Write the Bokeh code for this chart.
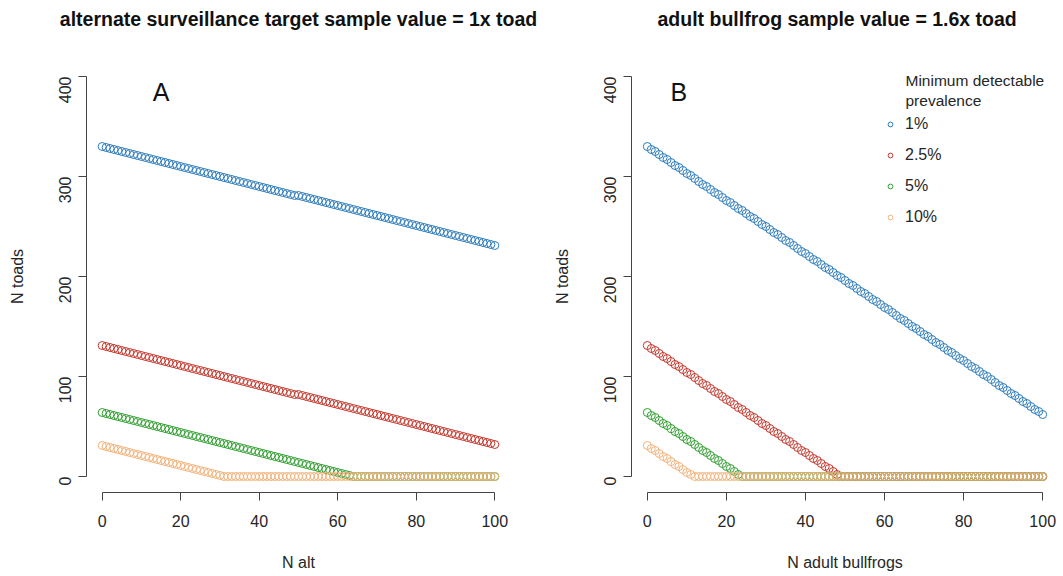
from bokeh.plotting import figure
from bokeh.layouts import row
from bokeh.models import FixedTicker, Label, Legend, LegendItem, Range1d, Title
from bokeh.embed import file_html
from bokeh.resources import INLINE
import math

# ---------------- data ----------------
n_other = list(range(0, 101))  # x values: 0..100 alternative samples

prevalence_labels = ["1%", "2.5%", "5%", "10%"]
series_colors = ["#2B7BBA", "#C2362B", "#2E9E2E", "#F2B279"]

# Panel A: alternate surveillance target (1x toad)
a_1pct = [330, 329, 328, 327, 326, 325, 324, 323, 322, 321,
          320, 319, 318, 317, 316, 315, 314, 313, 312, 311,
          310, 309, 308, 307, 306, 305, 304, 303, 302, 301,
          300, 299, 298, 297, 296, 295, 294, 293, 292, 291,
          290, 289, 288, 287, 286, 285, 284, 283, 282, 281,
          281, 280, 279, 278, 277, 276, 275, 274, 273, 272,
          271, 270, 269, 268, 267, 266, 265, 264, 263, 262,
          261, 260, 259, 258, 257, 256, 255, 254, 253, 252,
          251, 250, 249, 248, 247, 246, 245, 244, 243, 242,
          241, 240, 239, 238, 237, 236, 235, 234, 233, 232,
          231]
a_2p5pct = [131, 130, 129, 128, 127, 126, 125, 124, 123, 122,
            121, 120, 119, 118, 117, 116, 115, 114, 113, 112,
            111, 110, 109, 108, 107, 106, 105, 104, 103, 102,
            101, 100, 99, 98, 97, 96, 95, 94, 93, 92,
            91, 90, 89, 88, 87, 86, 85, 84, 83, 82,
            82, 81, 80, 79, 78, 77, 76, 75, 74, 73,
            72, 71, 70, 69, 68, 67, 66, 65, 64, 63,
            62, 61, 60, 59, 58, 57, 56, 55, 54, 53,
            52, 51, 50, 49, 48, 47, 46, 45, 44, 43,
            42, 41, 40, 39, 38, 37, 36, 35, 34, 33,
            32]
a_5pct = [64, 63, 62, 61, 60, 59, 58, 57, 56, 55,
          54, 53, 52, 51, 50, 49, 48, 47, 46, 45,
          44, 43, 42, 41, 40, 39, 38, 37, 36, 35,
          34, 33, 32, 31, 30, 29, 28, 27, 26, 25,
          24, 23, 22, 21, 20, 19, 18, 17, 16, 15,
          14, 13, 12, 11, 10, 9, 8, 7, 6, 5,
          4, 3, 2, 1, 0, 0, 0, 0, 0, 0,
          0, 0, 0, 0, 0, 0, 0, 0, 0, 0,
          0, 0, 0, 0, 0, 0, 0, 0, 0, 0,
          0, 0, 0, 0, 0, 0, 0, 0, 0, 0,
          0]
a_10pct = [31, 30, 29, 28, 27, 26, 25, 24, 23, 22,
           21, 20, 19, 18, 17, 16, 15, 14, 13, 12,
           11, 10, 9, 8, 7, 6, 5, 4, 3, 2,
           1, 0, 0, 0, 0, 0, 0, 0, 0, 0,
           0, 0, 0, 0, 0, 0, 0, 0, 0, 0,
           0, 0, 0, 0, 0, 0, 0, 0, 0, 0,
           0, 0, 0, 0, 0, 0, 0, 0, 0, 0,
           0, 0, 0, 0, 0, 0, 0, 0, 0, 0,
           0, 0, 0, 0, 0, 0, 0, 0, 0, 0,
           0, 0, 0, 0, 0, 0, 0, 0, 0, 0,
           0]

# Panel B: adult bullfrog (1.6x toad)
b_1pct = [330, 327, 325, 322, 319, 317, 314, 311, 309, 306,
          303, 301, 298, 295, 292, 290, 287, 284, 282, 279,
          276, 274, 271, 268, 266, 263, 260, 258, 255, 252,
          250, 247, 244, 242, 239, 236, 234, 231, 228, 225,
          223, 220, 217, 215, 212, 209, 207, 204, 201, 199,
          196, 193, 191, 188, 185, 183, 180, 177, 175, 172,
          169, 167, 164, 161, 158, 156, 153, 150, 148, 145,
          142, 140, 137, 134, 132, 129, 126, 124, 121, 118,
          116, 113, 110, 108, 105, 102, 100, 97, 94, 91,
          89, 86, 83, 81, 78, 75, 73, 70, 67, 65,
          62]
b_2p5pct = [131, 128, 126, 123, 120, 118, 115, 112, 110, 107,
            104, 102, 99, 96, 93, 91, 88, 85, 83, 80,
            77, 75, 72, 69, 67, 64, 61, 59, 56, 53,
            51, 48, 45, 43, 40, 37, 35, 32, 29, 26,
            24, 21, 18, 16, 13, 10, 8, 5, 2, 0,
            0, 0, 0, 0, 0, 0, 0, 0, 0, 0,
            0, 0, 0, 0, 0, 0, 0, 0, 0, 0,
            0, 0, 0, 0, 0, 0, 0, 0, 0, 0,
            0, 0, 0, 0, 0, 0, 0, 0, 0, 0,
            0, 0, 0, 0, 0, 0, 0, 0, 0, 0,
            0]
b_5pct = [64, 61, 59, 56, 53, 51, 48, 45, 43, 40,
          37, 35, 32, 29, 26, 24, 21, 18, 16, 13,
          10, 8, 5, 2, 0, 0, 0, 0, 0, 0,
          0, 0, 0, 0, 0, 0, 0, 0, 0, 0,
          0, 0, 0, 0, 0, 0, 0, 0, 0, 0,
          0, 0, 0, 0, 0, 0, 0, 0, 0, 0,
          0, 0, 0, 0, 0, 0, 0, 0, 0, 0,
          0, 0, 0, 0, 0, 0, 0, 0, 0, 0,
          0, 0, 0, 0, 0, 0, 0, 0, 0, 0,
          0, 0, 0, 0, 0, 0, 0, 0, 0, 0,
          0]
b_10pct = [31, 28, 26, 23, 20, 18, 15, 12, 10, 7,
           4, 2, 0, 0, 0, 0, 0, 0, 0, 0,
           0, 0, 0, 0, 0, 0, 0, 0, 0, 0,
           0, 0, 0, 0, 0, 0, 0, 0, 0, 0,
           0, 0, 0, 0, 0, 0, 0, 0, 0, 0,
           0, 0, 0, 0, 0, 0, 0, 0, 0, 0,
           0, 0, 0, 0, 0, 0, 0, 0, 0, 0,
           0, 0, 0, 0, 0, 0, 0, 0, 0, 0,
           0, 0, 0, 0, 0, 0, 0, 0, 0, 0,
           0, 0, 0, 0, 0, 0, 0, 0, 0, 0,
           0]

x_ticks = [0, 20, 40, 60, 80, 100]
y_ticks = [0, 100, 200, 300, 400]

FONT = "Liberation Sans"
TXT = "#262626"
HEIGHT = 575


def make_panel(title, title_align, title_offset, xlabel, series, letter, letter_x,
               width, border_left, border_right):
    p = figure(width=width, height=HEIGHT, output_backend="svg", toolbar_location=None,
               x_range=Range1d(-4, 104), y_range=Range1d(-16, 416),
               min_border_left=border_left, min_border_right=border_right,
               min_border_top=60, min_border_bottom=HEIGHT - 60 - 432,
               background_fill_color="white", border_fill_color="white")
    p.outline_line_color = None
    p.grid.visible = False

    # spacer between title and plotting region, then the bold title itself
    p.add_layout(Title(text=" ", text_font_size="10px", standoff=18), "above")
    p.add_layout(Title(text=title, text_font=FONT, text_font_size="19.5px",
                       text_font_style="bold", text_color="#111111",
                       align=title_align, offset=title_offset, standoff=0), "above")

    for ax, ticks, bnds in ((p.xaxis[0], x_ticks, (0, 100)), (p.yaxis[0], y_ticks, (0, 400))):
        ax.ticker = FixedTicker(ticks=ticks)
        ax.bounds = bnds
        ax.minor_tick_line_color = None
        ax.major_tick_in = 0
        ax.major_tick_out = 8
        ax.axis_line_color = "#444444"
        ax.major_tick_line_color = "#444444"
        ax.major_label_text_font = FONT
        ax.major_label_text_font_size = "16px"
        ax.major_label_text_color = TXT
        ax.axis_label_text_font = FONT
        ax.axis_label_text_font_size = "16px"
        ax.axis_label_text_font_style = "normal"
        ax.axis_label_text_color = TXT

    p.xaxis.axis_label = xlabel
    p.xaxis.major_label_standoff = 14
    p.xaxis.axis_label_standoff = 24
    p.yaxis.axis_label = "N toads"
    p.yaxis.major_label_orientation = math.pi / 2
    p.yaxis.major_label_standoff = 14
    p.yaxis.axis_label_standoff = 24

    renderers = []
    for vals, col in zip(series, series_colors):
        r = p.scatter(n_other, vals, marker="circle", size=8, fill_color=None,
                      line_color=col, line_width=1)
        renderers.append(r)

    p.add_layout(Label(x=letter_x, y=385, text=letter, text_font=FONT,
                       text_font_size="25px", text_color="#111111",
                       text_align="center", text_baseline="middle"))
    return p, renderers


pA, _ = make_panel("alternate surveillance target sample value = 1x toad", "center", 0,
                   "N alt", [a_1pct, a_2p5pct, a_5pct, a_10pct], "A", 15, 545, 86, 35)
pB, rB = make_panel("adult bullfrog sample value = 1.6x toad", "left", 26,
                    "N adult bullfrogs", [b_1pct, b_2p5pct, b_5pct, b_10pct], "B", 8,
                    517, 86, 4)

pB.add_layout(Label(x=65.3, y=396, text="Minimum detectable", text_font=FONT,
                    text_font_size="15.5px", text_color=TXT, text_baseline="middle"))
pB.add_layout(Label(x=65.3, y=376, text="prevalence", text_font=FONT,
                    text_font_size="15.5px", text_color=TXT, text_baseline="middle"))

legend = Legend(items=[LegendItem(label=lab, renderers=[r]) for lab, r in zip(prevalence_labels, rB)],
                location=(253, 265), border_line_color=None, background_fill_alpha=0,
                padding=0, margin=0, spacing=11, label_height=20, glyph_width=12,
                glyph_height=12, label_standoff=9, label_text_font=FONT,
                label_text_font_size="16px", label_text_color=TXT)
pB.add_layout(legend)

layout = row(pA, pB)
open("out.html", "w").write(file_html(layout, INLINE))
